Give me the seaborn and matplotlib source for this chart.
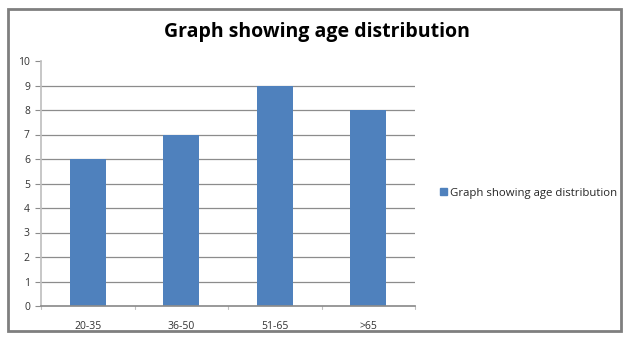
import matplotlib
matplotlib.use("Agg")
import matplotlib.pyplot as plt
import seaborn as sns
import pandas as pd
from matplotlib.patches import Rectangle, Patch

categories = ["20-35", "36-50", "51-65", ">65"]
values = [6, 7, 9, 8]
series_name = "Graph showing age distribution"
title = "Graph showing age distribution"

df = pd.DataFrame({"age": categories, "count": values})

sns.set_theme(style="white")
plt.rcParams['font.family'] = ['Open Sans', 'DejaVu Sans']

fig = plt.figure(figsize=(6.25, 3.41), dpi=100)
ax = fig.add_axes([41/625, 1-306/341, (415-41)/625, (306-61)/341])

bar_color = "#4f81bd"
sns.barplot(data=df, x="age", y="count", color=bar_color, width=0.39, ax=ax, saturation=1,
            edgecolor=bar_color, linewidth=0)

ax.set_ylim(0, 10)
ax.set_xlim(-0.5, 3.5)
ax.set_yticks(range(0, 11))
ax.set_yticklabels([str(i) for i in range(0, 11)], fontsize=7.5, color="#333333")
ax.set_xticklabels(categories, fontsize=7.5, color="#333333")
ax.set_xlabel("")
ax.set_ylabel("")
for y in range(1, 10):
    ax.axhline(y, color="#8c8c8c", lw=0.9, zorder=0)
for s in ["top", "right"]:
    ax.spines[s].set_visible(False)
ax.spines["left"].set_color("#c0c0c0")
ax.spines["bottom"].set_color("#8c8c8c")
ax.tick_params(axis="y", length=4, width=0.8, color="#8c8c8c", pad=4, left=True, direction="out")
ax.tick_params(axis="x", length=3, width=0.8, color="#c0c0c0", pad=8, bottom=False)
for xt in [-0.5, 0.5, 1.5, 2.5, 3.5]:
    ax.plot([xt, xt], [0, -0.12], color="#c0c0c0", lw=0.8, clip_on=False, transform=ax.transData)

fig.text(317/625, 1-32/341, title, ha="center", va="center", fontsize=14, fontweight="bold", color="black")

handle = Patch(facecolor=bar_color, edgecolor=bar_color)
fig.legend([handle], [series_name], loc="center left", bbox_to_anchor=(430/625, 1-193/341),
           frameon=False, fontsize=8.2, handlelength=0.6, handleheight=0.6, handletextpad=0.3)

fig.patches.append(Rectangle((8/625, 1-331/341), (621-8)/625, (331-9)/341, transform=fig.transFigure,
                             fill=False, edgecolor="#7f7f7f", lw=2))

fig.savefig("out.png", dpi=100)
